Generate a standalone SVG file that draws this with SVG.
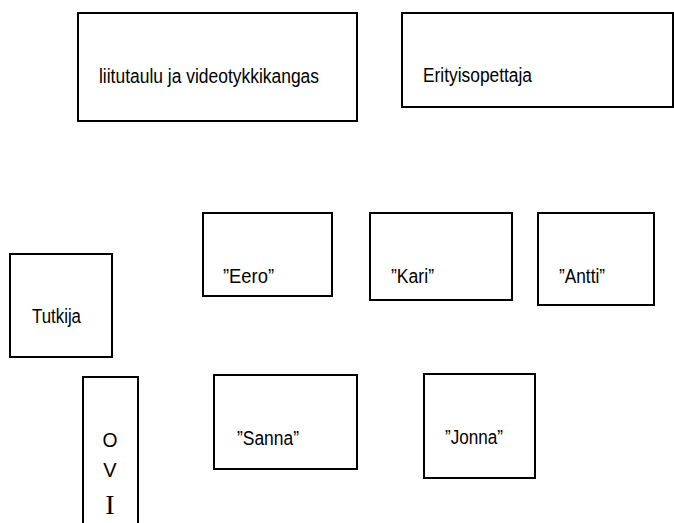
<svg xmlns="http://www.w3.org/2000/svg" width="674" height="523" viewBox="0 0 674 523">
<style>
.b{fill:#fff;stroke:#000;stroke-width:2}
.t{font-family:"Liberation Sans",Arial,sans-serif;font-size:20px;fill:#000}
.o{font-family:"Liberation Sans",Arial,sans-serif;font-size:20px;fill:#000;text-anchor:middle}
.s{font-family:"Liberation Serif","Times New Roman",serif;font-size:28px;fill:#000;text-anchor:middle}
</style>
<rect width="674" height="523" fill="#fff"/>
<g id="liitutaulu"><rect class="b" x="78" y="13" width="279" height="108"/><text class="t" x="99" y="83" textLength="220" lengthAdjust="spacingAndGlyphs">liitutaulu ja videotykkikangas</text></g>
<g id="erityisopettaja"><rect class="b" x="402" y="13" width="271" height="94"/><text class="t" x="423" y="82" textLength="109" lengthAdjust="spacingAndGlyphs">Erityisopettaja</text></g>
<g id="tutkija"><rect class="b" x="10" y="254" width="102" height="103"/><text class="t" x="32" y="323" textLength="49" lengthAdjust="spacingAndGlyphs">Tutkija</text></g>
<g id="eero"><rect class="b" x="203" y="213" width="129" height="83"/><text class="t" x="223" y="283" textLength="51" lengthAdjust="spacingAndGlyphs">”Eero”</text></g>
<g id="kari"><rect class="b" x="370" y="213" width="142" height="87"/><text class="t" x="391" y="283" textLength="43" lengthAdjust="spacingAndGlyphs">”Kari”</text></g>
<g id="antti"><rect class="b" x="538" y="213" width="116" height="92"/><text class="t" x="559" y="283" textLength="46" lengthAdjust="spacingAndGlyphs">”Antti”</text></g>
<g id="ovi"><rect class="b" x="83" y="377" width="55" height="150"/><text class="o" x="110" y="447" textLength="15" lengthAdjust="spacingAndGlyphs">O</text><text class="o" x="110" y="477">V</text><text class="s" x="110" y="514">I</text></g>
<g id="sanna"><rect class="b" x="214" y="375" width="143" height="94"/><text class="t" x="237" y="445" textLength="62" lengthAdjust="spacingAndGlyphs">”Sanna”</text></g>
<g id="jonna"><rect class="b" x="424" y="374" width="111" height="104"/><text class="t" x="445" y="444" textLength="58" lengthAdjust="spacingAndGlyphs">”Jonna”</text></g>
<g id="connectors"></g>
</svg>
